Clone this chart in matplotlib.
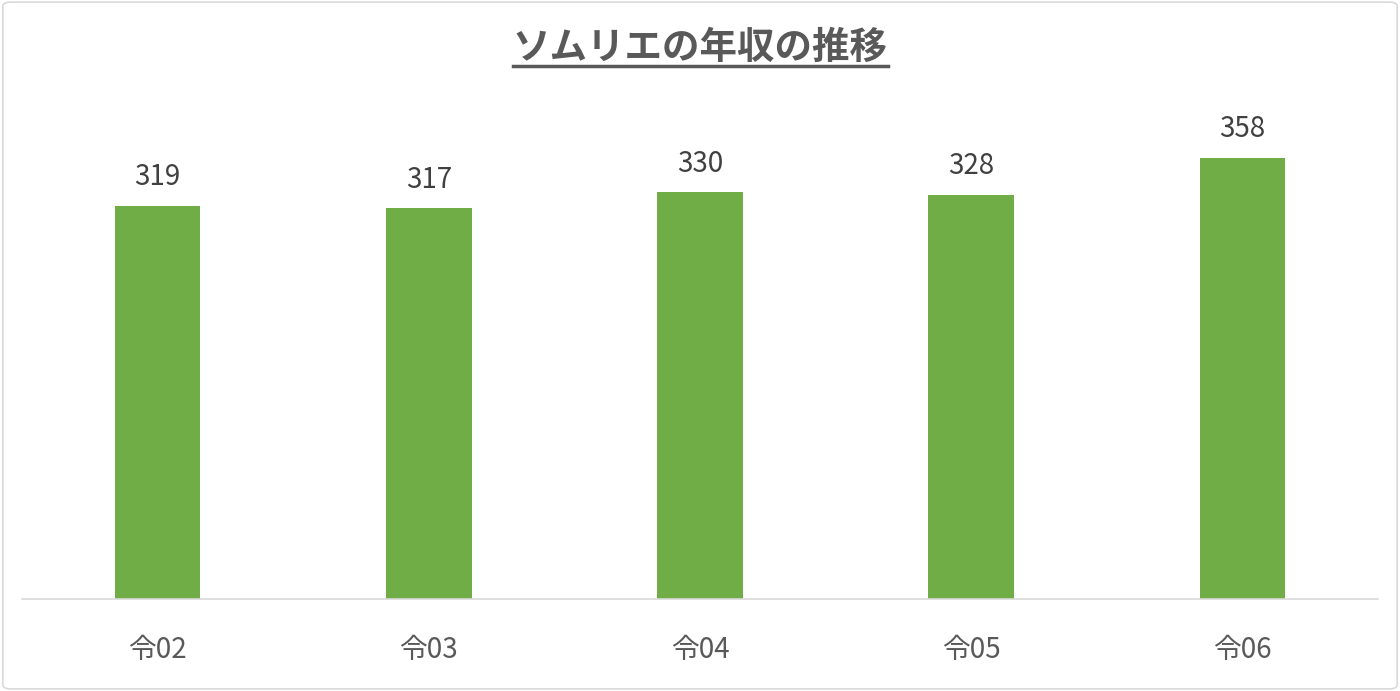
import matplotlib
matplotlib.use("Agg")
import matplotlib.pyplot as plt
from matplotlib.patches import FancyBboxPatch

plt.rcParams['font.family'] = ['Noto Sans CJK JP', 'DejaVu Sans']

# データ
years = ["令02", "令03", "令04", "令05", "令06"]
salary = [319, 317, 330, 328, 358]
title = "ソムリエの年収の推移"

fig = plt.figure(figsize=(14, 6.91), dpi=100)
ax = fig.add_axes([22 / 1400, 1 - 599 / 691, 1356 / 1400, 493 / 691])

bars = ax.bar(range(len(years)), salary, width=0.315, color="#70ad47")
for b, v in zip(bars, salary):
    ax.text(b.get_x() + b.get_width() / 2, v + 11, str(v),
            ha="center", va="bottom", fontsize=20, color="#404040")

ax.set_xlim(-0.5, len(years) - 0.5)
ax.set_ylim(0, 400)
ax.set_xticks(range(len(years)))
ax.set_xticklabels(years, fontsize=20, color="#595959")
ax.tick_params(axis="x", length=0, pad=26)
ax.set_yticks([])
for s in ["top", "right", "left"]:
    ax.spines[s].set_visible(False)
ax.spines["bottom"].set_color("#d9d9d9")
ax.spines["bottom"].set_linewidth(1.2)

# タイトル(下線付き)
t = fig.text(0.5, 1 - 47 / 691, title, ha="center", va="center",
             fontsize=27, fontweight="bold", color="#595959")
fig.canvas.draw()
bb = t.get_window_extent().transformed(fig.transFigure.inverted())
fig.add_artist(plt.Line2D([bb.x0, bb.x1], [1 - 66 / 691] * 2,
                          color="#595959", lw=2.5, transform=fig.transFigure))

# 枠線
fig.patches.append(FancyBboxPatch((0.002, 0.003), 0.996, 0.994,
                                  boxstyle="round,pad=0,rounding_size=0.006",
                                  transform=fig.transFigure, fill=False,
                                  edgecolor="#d9d9d9", lw=1.2))

fig.savefig("out.png", dpi=100)
